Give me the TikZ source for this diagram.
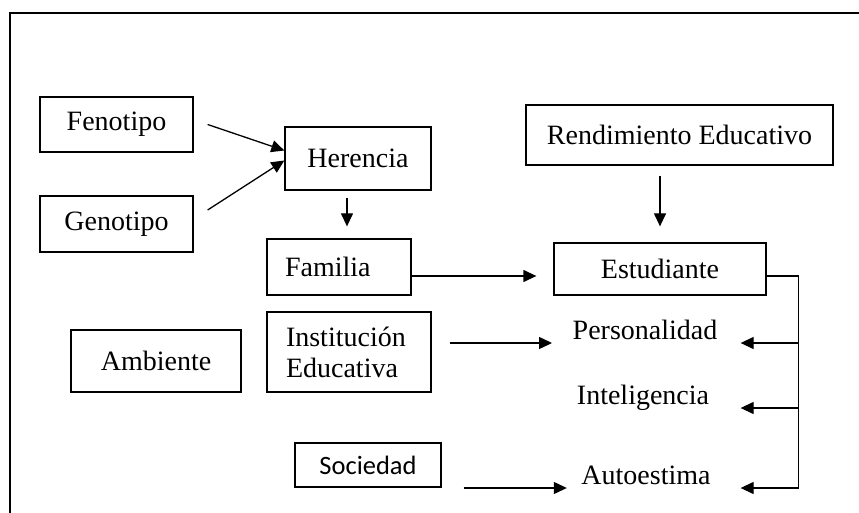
\documentclass[tikz,border=0pt]{standalone}
\usepackage{fontspec}
\setmainfont{Liberation Serif}
\newfontfamily\calibrifont{Carlito}
\usetikzlibrary{arrows.meta}

\begin{document}
\begin{tikzpicture}[x=1pt,y=-1pt,line width=1.3pt,
	caja/.style={draw,rectangle,inner sep=0pt,font=\fontsize{28}{31}\selectfont},
	etiqueta/.style={inner sep=0pt,anchor=base,font=\fontsize{28}{31}\selectfont},
	flecha/.style={-{Triangle[length=13pt,width=12pt]}}]
\useasboundingbox (0,0) rectangle (859,513);
\draw (10,513) -- (10,13) -- (859,13);
% cajas
\node[caja,minimum width=153pt,minimum height=55pt] (feno) at (116.5,124.5) {Fenotipo};
\node[caja,minimum width=153pt,minimum height=56pt] (geno) at (116.5,224) {Genotipo};
\node[caja,minimum width=146pt,minimum height=63pt] (her) at (358,158.5) {Herencia};
\node[caja,text width=108pt,inner xsep=18pt,align=left,minimum height=56pt] (fam) at (339,267) {Familia};
\node[caja,minimum width=307pt,minimum height=60pt] (rend) at (679.5,135) {Rendimiento Educativo};
\node[caja,minimum width=212pt,minimum height=52pt] (est) at (660,269) {Estudiante};
\node[caja,minimum width=170pt,minimum height=62pt] (amb) at (156,361) {Ambiente};
\node[caja,text width=126pt,inner xsep=19pt,align=left,minimum height=80pt] (inst) at (349,352) {Institución\\Educativa};
\node[caja,minimum width=146pt,minimum height=44pt,font=\calibrifont\fontsize{26.5}{30}\selectfont] (soc) at (368,465) {Sociedad};
% etiquetas
\node[etiqueta] (pers) at (645,339) {Personalidad};
\node[etiqueta] (intel) at (643,404) {Inteligencia};
\node[etiqueta] (auto) at (646,484) {Autoestima};
% flechas
\draw[flecha] ([xshift=14pt]feno.east) -- ([yshift=8pt]her.west);
\draw[flecha] ([xshift=14pt,yshift=14pt]geno.east) -- ([yshift=-2pt]her.west);
\draw[flecha,shorten <=7pt,shorten >=12pt] ([xshift=-11pt]her.south) -- ([xshift=-11pt]her.south |- fam.north);
\draw[flecha,shorten <=10pt,shorten >=16pt] (est.north |- rend.south) -- (est.north);
\draw[flecha,shorten >=17pt] ([yshift=-9pt]fam.east) -- ([yshift=-9pt]fam.east -| est.west);
\draw[flecha,shorten <=18pt,shorten >=20pt] ([yshift=-4pt]inst.east |- pers.base) -- ([yshift=-4pt]pers.base west);
\draw[flecha,shorten <=22pt,shorten >=14pt] ([yshift=-4pt]soc.east |- auto.base) -- ([yshift=-4pt]auto.base west);
\coordinate (bus) at ([xshift=32pt,yshift=-7pt]est.east);
\draw (est.east |- bus) -- (bus) -- ([yshift=-4pt]bus |- auto.base);
\foreach \n in {pers,intel,auto}
	\draw[flecha] ([yshift=-4pt]bus |- \n.base) -- +(-58,0);
\end{tikzpicture}
\end{document}
